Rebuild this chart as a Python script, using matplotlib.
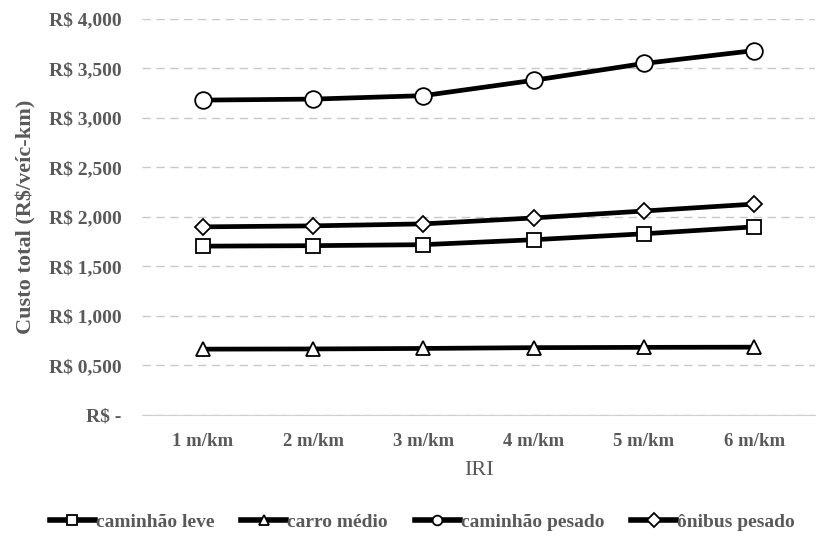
import matplotlib
matplotlib.use("Agg")
import matplotlib.pyplot as plt
from matplotlib.ticker import FuncFormatter

categories = ["1 m/km", "2 m/km", "3 m/km", "4 m/km", "5 m/km", "6 m/km"]
caminhao_leve = [1.705, 1.71, 1.72, 1.77, 1.83, 1.90]
carro_medio = [0.665, 0.667, 0.672, 0.68, 0.683, 0.685]
caminhao_pesado = [3.18, 3.19, 3.225, 3.38, 3.55, 3.68]
onibus_pesado = [1.90, 1.91, 1.93, 1.99, 2.06, 2.13]
yticks = [0, 0.5, 1, 1.5, 2, 2.5, 3, 3.5, 4]

plt.rcParams['font.family'] = ['Liberation Serif', 'DejaVu Serif']
grey = '#595959'

fig = plt.figure(figsize=(8.28, 5.4), dpi=100)
ax = fig.add_axes([0.172, 0.2315, 0.812, 0.7335])
x = list(range(len(categories)))

common = dict(color='black', lw=3.4, markerfacecolor='white', markeredgecolor='black', markeredgewidth=1.3)
ax.plot(x, caminhao_leve, marker='s', markersize=10, label='caminhão leve', **common)
ax.plot(x, carro_medio, marker='^', markersize=10, label='carro médio', **common)
ax.plot(x, caminhao_pesado, marker='o', markersize=12, label='caminhão pesado', **common)
ax.plot(x, onibus_pesado, marker='D', markersize=8, label='ônibus pesado', **common)

ax.set_xlim(-0.55, 5.55)
ax.set_ylim(0, 4)
ax.set_yticks(yticks)
def fmt(v, pos):
    if abs(v) < 1e-9:
        return 'R$ -'
    return 'R$ ' + f'{v:.3f}'.replace('.', ',')
ax.yaxis.set_major_formatter(FuncFormatter(fmt))
ax.set_xticks(x)
ax.set_xticklabels(categories)
ax.grid(axis='y', color='#c8c8c8', linestyle=(0, (6, 4)), lw=1)
ax.set_axisbelow(True)
for s in ['top', 'right', 'left']:
    ax.spines[s].set_visible(False)
ax.spines['bottom'].set_color('#d0d0d0')
ax.tick_params(axis='y', length=0, labelsize=14, labelcolor=grey, pad=15)
ax.tick_params(axis='x', length=0, labelsize=13.5, labelcolor=grey, pad=13)
for lab in ax.get_xticklabels() + ax.get_yticklabels():
    lab.set_fontweight('bold')
ax.set_xlabel('IRI', fontsize=16, color=grey, labelpad=8)
ax.set_ylabel('Custo total (R$/veíc-km)', fontsize=16, color=grey, fontweight='bold', labelpad=9)

leg = fig.legend(loc='center', bbox_to_anchor=(0.51, 0.033), ncol=4, frameon=False,
                 handlelength=2.3, columnspacing=1.4, handletextpad=0.05,
                 prop={'weight': 'bold', 'size': 14, 'family': 'Liberation Serif'})
for t in leg.get_texts():
    t.set_color(grey)
for h in leg.legend_handles:
    h.set_markersize(7)
    h.set_linewidth(4)

fig.savefig('out.png', dpi=100)
